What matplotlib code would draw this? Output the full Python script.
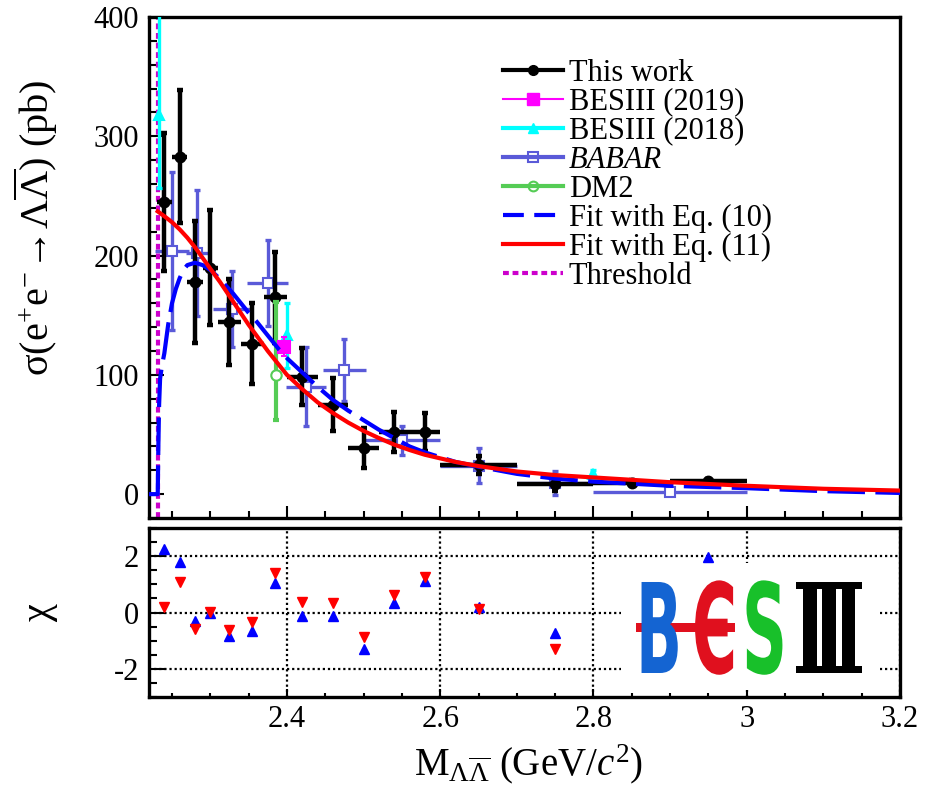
import matplotlib
matplotlib.use('Agg')
import matplotlib.pyplot as plt
import numpy as np
from matplotlib.lines import Line2D
from matplotlib.patches import Rectangle
from matplotlib import font_manager as fm
from matplotlib.ticker import MultipleLocator, FixedLocator, FuncFormatter
from matplotlib.patheffects import AbstractPathEffect
from matplotlib.transforms import Affine2D

plt.rcParams['font.family'] = ['Liberation Serif', 'DejaVu Serif', 'DejaVu Sans']
plt.rcParams['mathtext.fontset'] = 'custom'
plt.rcParams['mathtext.rm'] = 'Liberation Serif'
plt.rcParams['mathtext.it'] = 'Liberation Serif:italic'
plt.rcParams['mathtext.bf'] = 'Liberation Serif:bold'
plt.rcParams['axes.unicode_minus'] = False

# ---------------- data ----------------
# This work
tw_x = [2.24, 2.26, 2.28, 2.30, 2.325, 2.355, 2.385, 2.42, 2.46, 2.50, 2.54, 2.58, 2.65, 2.75, 2.85, 2.95]
tw_xerr = [0.01, 0.01, 0.01, 0.01, 0.015, 0.015, 0.015, 0.02, 0.02, 0.02, 0.02, 0.02, 0.05, 0.05, 0.05, 0.05]
tw_y = [245, 283, 178, 190, 144, 126, 165, 98.5, 75, 38.5, 52, 52, 24.5, 8.5, 9.5, 11]
tw_yerr = [58, 56, 51, 48, 36, 34, 38, 24, 22, 17, 17, 16, 7.5, 6, 2, 2]

# BESIII (2019)
b19_x = [2.396]
b19_y = [123.6]
b19_yerr = [8]

# BESIII (2018)
b18_x = [2.2324, 2.40, 2.80]
b18_y = [318, 133, 16.5]
b18_yerr_lo = [61, 27, 3.5]
b18_yerr_hi = [140, 27, 3.5]

# BABAR
bb_x = [2.25, 2.283, 2.328, 2.375, 2.425, 2.475, 2.55, 2.65, 2.75, 2.90]
bb_xerr = [0.0225, 0.015, 0.024, 0.027, 0.026, 0.028, 0.05, 0.05, 0.05, 0.10]
bb_y = [204, 202, 155, 177, 90, 104, 45, 24, 9, 1.5]
bb_yerr = [66, 53, 32, 36, 33, 26, 12, 15, 10, 2]

# DM2
dm2_x = [2.386]
dm2_y = [100]
dm2_yerr_lo = [38]
dm2_yerr_hi = [61]

# Fit with Eq. (10)
fit10_x = [2.22, 2.2314, 2.2322, 2.2332, 2.2345, 2.237, 2.24, 2.245, 2.25, 2.255, 2.26, 2.265,
           2.27, 2.28, 2.29, 2.30, 2.31, 2.32, 2.33, 2.34, 2.35, 2.36, 2.37, 2.38, 2.39, 2.40,
           2.42, 2.44, 2.46, 2.48, 2.50, 2.52, 2.54, 2.56, 2.58, 2.62, 2.65, 2.70, 2.75, 2.80,
           2.90, 3.00, 3.10, 3.20]
fit10_y = [0, 0, 40, 75, 97, 108, 118, 142, 160, 172, 181, 188,
           192, 194, 192, 188, 182, 175, 168, 160, 152, 145, 137, 129, 121, 114,
           102, 90, 79, 70, 62, 54, 47, 40, 35, 27, 23, 17, 13, 10.5,
           7, 5, 2.5, 1]

# Fit with Eq. (11)
fit11_x = [2.2314, 2.24, 2.25, 2.26, 2.27, 2.28, 2.29, 2.30, 2.3125, 2.325, 2.3375, 2.35,
           2.3625, 2.375, 2.3875, 2.40, 2.42, 2.44, 2.46, 2.48, 2.50, 2.52, 2.54, 2.56, 2.58,
           2.62, 2.65, 2.70, 2.75, 2.80, 2.90, 3.00, 3.10, 3.20]
fit11_y = [237, 233, 228, 222, 215, 207, 198, 189, 178, 166, 154, 142,
           131, 120, 110, 100, 88, 77, 68, 60, 53, 47, 41.5, 37, 33,
           27, 23.5, 19, 16, 14, 10, 7, 4.5, 3]

threshold_x = 2.2314

# chi (pull) panel
chi_x = [2.24, 2.26, 2.28, 2.30, 2.325, 2.355, 2.385, 2.42, 2.46, 2.50, 2.54, 2.58, 2.65, 2.75, 2.95]
chi10 = [2.25, 1.78, -0.31, -0.02, -0.85, -0.67, 1.05, -0.13, -0.13, -1.29, 0.34, 1.11, 0.21, -0.73, 1.98]
chi11 = [0.21, 1.07, -0.58, 0.03, -0.61, -0.32, 1.40, 0.39, 0.33, -0.87, 0.63, 1.25, 0.13, -1.29, np.nan]

xticks = [2.4, 2.6, 2.8, 3.0, 3.2]
xtick_labels = ['2.4', '2.6', '2.8', '3', '3.2']

# ---------------- style ----------------
C_TW = 'black'
C_B19 = '#ff00ff'
C_B18 = '#00ffff'
C_BB = '#5a5ad8'
C_DM2 = '#55cc55'
C_F10 = '#0000ff'
C_F11 = '#ff0000'
C_THR = '#cc00cc'

W, H = 932, 794
fig = plt.figure(figsize=(W / 100, H / 100), dpi=100)
L, R = 149, 900
ax = fig.add_axes([L / W, 1 - 518 / H, (R - L) / W, (518 - 17) / H])
axr = fig.add_axes([L / W, 1 - 697 / H, (R - L) / W, (697 - 528) / H])

for a in (ax, axr):
    for s in a.spines.values():
        s.set_linewidth(2.4)
    a.set_xlim(2.22, 3.2)

ax.set_ylim(-20, 400)
axr.set_ylim(-3, 3)


def draw_points(a, x, y, xerr, yerr, color, marker, ms, lw, mfc, z, capsize=2.5, mew=1.5):
    if xerr is not None:
        a.errorbar(x, y, xerr=xerr, fmt='none', ecolor=color, elinewidth=lw, capsize=0, zorder=z)
    if yerr is not None:
        a.errorbar(x, y, yerr=yerr, fmt='none', ecolor=color, elinewidth=lw, capsize=capsize,
                   capthick=lw, zorder=z)
    a.plot(x, y, ls='none', marker=marker, ms=ms, mfc=mfc, mec=color, mew=mew, zorder=z + 0.1)


# threshold
ax.axvline(threshold_x, color=C_THR, ls=(0, (1.4, 0.9)), lw=3, zorder=2)

draw_points(ax, bb_x, bb_y, bb_xerr, bb_yerr, C_BB, 's', 7.5, 2.4, 'white', 3)
draw_points(ax, tw_x, tw_y, tw_xerr, tw_yerr, C_TW, 'o', 7, 3.2, C_TW, 4)
draw_points(ax, dm2_x, dm2_y, None, [dm2_yerr_lo, dm2_yerr_hi], C_DM2, 'o', 7.5, 3.0, 'white', 4.5)
draw_points(ax, b18_x, b18_y, None, [b18_yerr_lo, b18_yerr_hi], C_B18, '^', 7, 2.4, C_B18, 4.6)
draw_points(ax, b19_x, b19_y, None, b19_yerr, C_B19, 's', 8.5, 1.5, C_B19, 4.7)

ax.plot(fit10_x, fit10_y, color=C_F10, lw=3, ls=(0, (9, 2.5)), zorder=6)
ax.plot(fit11_x, fit11_y, color=C_F11, lw=3, zorder=6.1)

# ticks
ax.yaxis.set_major_locator(MultipleLocator(100))
ax.yaxis.set_minor_locator(MultipleLocator(20))
ax.xaxis.set_major_locator(FixedLocator(xticks))
ax.xaxis.set_minor_locator(MultipleLocator(0.05))
ax.tick_params(axis='y', which='major', direction='in', length=11, width=1.5, labelsize=22, pad=7,
               right=False)
ax.tick_params(axis='y', which='minor', direction='in', length=5.5, width=1.5, right=False)
ax.tick_params(axis='x', which='major', direction='in', length=9, width=1.5, labelbottom=False, top=False)
ax.tick_params(axis='x', which='minor', direction='in', length=5, width=1.5, top=False)

ax.set_ylabel(r'$\mathrm{\sigma(e^{+}e^{-}\!\rightarrow\!\Lambda\overline{\Lambda})}$ (pb)', fontsize=29)
ax.yaxis.set_label_coords(-0.118, 0.58)

# legend
handles = [
    Line2D([], [], color=C_TW, lw=3, marker='o', ms=7),
    Line2D([], [], color=C_B19, lw=1.5, marker='s', ms=8),
    Line2D([], [], color=C_B18, lw=3, marker='^', ms=7),
    Line2D([], [], color=C_BB, lw=3, marker='s', ms=7, mfc='none', mew=1.5),
    Line2D([], [], color=C_DM2, lw=3, marker='o', ms=7, mfc='none', mew=1.5),
    Line2D([], [], color=C_F10, lw=3, ls=(0, (5, 2.5))),
    Line2D([], [], color=C_F11, lw=3),
    Line2D([], [], color=C_THR, lw=3, ls=(0, (1.4, 0.9))),
]
labels = ['This work', 'BESIII (2019)', 'BESIII (2018)', 'BABAR', 'DM2',
          'Fit with Eq. (10)', 'Fit with Eq. (11)', 'Threshold']
leg = ax.legend(handles, labels, loc='upper left', bbox_to_anchor=(0.4714, 0.917), frameon=False,
                fontsize=22, handlelength=1.95, handletextpad=0.2, labelspacing=0.0,
                borderpad=0, borderaxespad=0)
leg.get_texts()[3].set_style('italic')

# ---------------- chi panel ----------------
axr.plot(chi_x, chi10, ls='none', marker='^', ms=7.5, color='#0000ff', mec='#0000ff', zorder=4)
axr.plot(chi_x, chi11, ls='none', marker='v', ms=7.5, color='#ff0000', mec='#ff0000', zorder=4.1)

axr.xaxis.set_major_locator(FixedLocator(xticks))
axr.xaxis.set_major_formatter(FuncFormatter(lambda v, p: xtick_labels[xticks.index(round(v, 2))]
                                            if round(v, 2) in xticks else ''))
axr.xaxis.set_minor_locator(MultipleLocator(0.05))
axr.yaxis.set_major_locator(FixedLocator([-2, 0, 2]))
axr.yaxis.set_minor_locator(MultipleLocator(0.5))
axr.tick_params(axis='x', which='major', direction='in', length=6, width=1.5, labelsize=22, pad=6, top=False)
axr.tick_params(axis='x', which='minor', direction='in', length=3, width=1.5, top=False)
axr.tick_params(axis='y', which='major', direction='in', length=12, width=1.5, labelsize=22, pad=7,
                right=False)
axr.tick_params(axis='y', which='minor', direction='in', length=6, width=1.5, right=False)
axr.grid(True, which='major', color='black', ls=(0, (1, 1.3)), lw=1.6)
axr.set_axisbelow(True)

axr.set_ylabel(r'$\mathrm{\chi}$', fontsize=29)
axr.yaxis.set_label_coords(-0.118, 0.5)
axr.set_xlabel(r'M$_{\Lambda\overline{\Lambda}}$ (GeV/$c^{2}$)', fontsize=28)
axr.xaxis.set_label_coords(0.505, -0.27)

# ---------------- BESIII logo ----------------
axr.add_patch(Rectangle((621 / W, 1 - 690 / H), (880 - 621) / W, (690 - 563) / H,
                        transform=fig.transFigure, facecolor='white', edgecolor='none', zorder=2.5))


class Stretch(AbstractPathEffect):
    """Vertically stretch a text's glyph outlines about its baseline (display y0)."""

    def __init__(self, sy, y0):
        super().__init__()
        self.sy = sy
        self.y0 = y0

    def draw_path(self, renderer, gc, tpath, affine, rgbFace=None):
        aff = affine + Affine2D().translate(0, -self.y0).scale(1, self.sy).translate(0, self.y0)
        renderer.draw_path(gc, tpath, aff, rgbFace)


fp_sans = fm.FontProperties(family='DejaVu Sans', weight='bold')
fp_iii = fm.FontProperties(family=['DejaVu Serif', 'DejaVu Sans'], weight='bold')
# (char, colour, font, left px, target width px)
logo = [('B', '#1464d2', fp_sans, 636, 46), ('\u0404', '#e0101e', fp_sans, 692, 45),
        ('S', '#18c02a', fp_sans, 742, 45), ('\u2162', 'black', fp_iii, 793, 72)]
baseline_px = 673.0
cap_target = 91.0
renderer = fig.canvas.get_renderer()
for ch, col, fp, left, tw in logo:
    probe = fig.text(0, 0, ch, fontproperties=fp, fontsize=100)
    w100 = probe.get_window_extent(renderer).width
    probe.remove()
    size = 100 * tw / w100
    t = axr.text(left / W, 1 - baseline_px / H, ch, transform=fig.transFigure, fontproperties=fp,
                 fontsize=size, color=col, ha='left', va='baseline', zorder=5)
    cap_px = 0.729 * size * 100 / 72
    t.set_path_effects([Stretch(cap_target / cap_px, H - baseline_px)])

# red bar through B and E
axr.add_patch(Rectangle((636 / W, 1 - 632 / H), (735 - 636) / W, 9 / H,
                        transform=fig.transFigure, facecolor='#e0101e', edgecolor='none', zorder=4.9))

fig.savefig('out.png', dpi=100)
